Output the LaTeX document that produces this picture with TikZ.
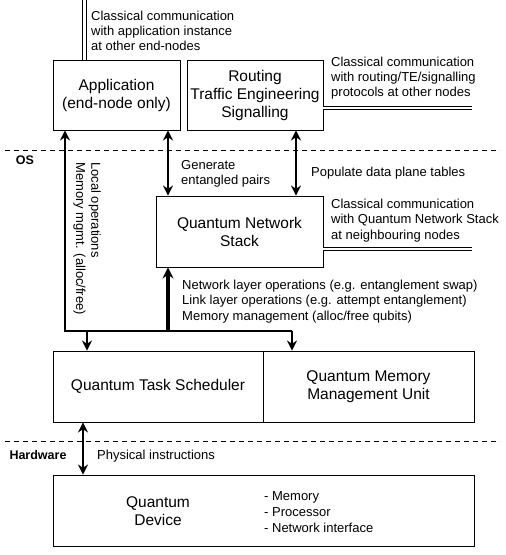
\documentclass[tikz,border=0pt]{standalone}
\usepackage{fontspec}
\setmainfont{Liberation Sans}
\usetikzlibrary{arrows.meta}
\tikzset{
 box/.style={draw, line width=0.9pt, inner sep=0pt, align=center, font=\fontsize{15.5}{18}\selectfont},
 lbl/.style={align=left, font=\fontsize{13}{15.3}\selectfont, inner sep=0pt, anchor=north west},
 tip/.tip={Stealth[length=10pt,width=10pt]},
 arr/.style={line width=2pt, -tip},
 darr/.style={line width=2pt, tip-tip},
 dbl/.style={double, double distance=2.6pt, line width=0.8pt},
 sep/.style={line width=0.8pt, dash pattern=on 5pt off 4pt},
 layer/.style={font=\fontsize{12.5}{15}\selectfont\bfseries, inner sep=0pt},
}
\begin{document}
\begin{tikzpicture}[x=1pt,y=-1pt]
\useasboundingbox (0,0) rectangle (506,555);
% separators
\draw[sep] (5,150) -- (500,150);
\draw[sep] (5,441) -- (500,441);
\node[layer] (os) at (25,160) {OS};
\node[layer] (hw) at (38,455) {Hardware};
% boxes
\node[box, minimum width=127pt, minimum height=70pt] (app) at (116.5,95) {Application\\(end-node only)};
\node[box, minimum width=136pt, minimum height=70pt] (rout) at (255,95) {Routing\\Traffic Engineering\\Signalling};
\node[box, minimum width=167pt, minimum height=71pt] (qns) at (239.5,231.5) {Quantum Network\\Stack};
\node[box, minimum width=210pt, minimum height=71pt] (qts) at (158,386.5) {Quantum Task Scheduler};
\node[box, minimum width=211pt, minimum height=71pt] (qmmu) at (368.5,386.5) {Quantum Memory\\Management Unit};
\node[box, minimum width=421pt, minimum height=71pt] (dev) at (263.5,510.5) {};
\node[box, draw=none] (devt) at (158,511) {Quantum\\Device};
\node[lbl, font=\fontsize{13}{16}\selectfont] (devl) at (264,491) {- Memory\\- Processor\\- Network interface};
% classical channels
\coordinate (c1) at (84.5,0);
\coordinate (c2) at (472,108);
\coordinate (c3) at (472,249);
\draw[dbl] (app.north -| c1) -- (c1);
\draw[dbl] (rout.east |- c2) -- (c2);
\draw[dbl] (qns.east |- c3) -- (c3);
\node[lbl] (l1) at (91,10.5) {Classical communication\\with application instance\\at other end-nodes};
\node[lbl] (l2) at (331,56.5) {Classical communication\\with routing/TE/signalling\\protocols at other nodes};
\node[lbl] (l3) at (331,199) {Classical communication\\with Quantum Network Stack\\at neighbouring nodes};
% arrows
\coordinate (x1) at (168,0);
\coordinate (x2) at (296,0);
\draw[darr] (app.south -| x1) -- (qns.north -| x1);
\draw[darr] (rout.south -| x2) -- (qns.north -| x2);
\node[lbl] (g) at (181,160) {Generate\\entangled pairs};
\node[lbl] (p) at (311,167) {Populate data plane tables};
\coordinate (j1) at (65,331);
\coordinate (j2) at (292,331);
\coordinate (j3) at (87,331);
\coordinate (j4) at (168,331);
\draw[arr, line join=miter] (j2) -- (j1) -- (app.south -| j1);
\draw[arr] (j2) -- (qmmu.north -| j2);
\draw[arr] (j3) -- (qts.north -| j3);
\draw[line width=4pt, -{Stealth[length=11pt,width=11pt]}] (j4) -- (qns.south -| j4);
\node[lbl, rotate=-90] (v) at (101,162) {Local operations\\Memory mgmt. (alloc/free)};
\node[lbl] (n) at (182,280) {Network layer operations (e.g. entanglement swap)\\Link layer operations (e.g. attempt entanglement)\\Memory management (alloc/free qubits)};
\coordinate (x3) at (83,0);
\draw[darr] (qts.south -| x3) -- (dev.north -| x3);
\node[lbl] (ph) at (97,450) {Physical instructions};
\end{tikzpicture}
\end{document}
